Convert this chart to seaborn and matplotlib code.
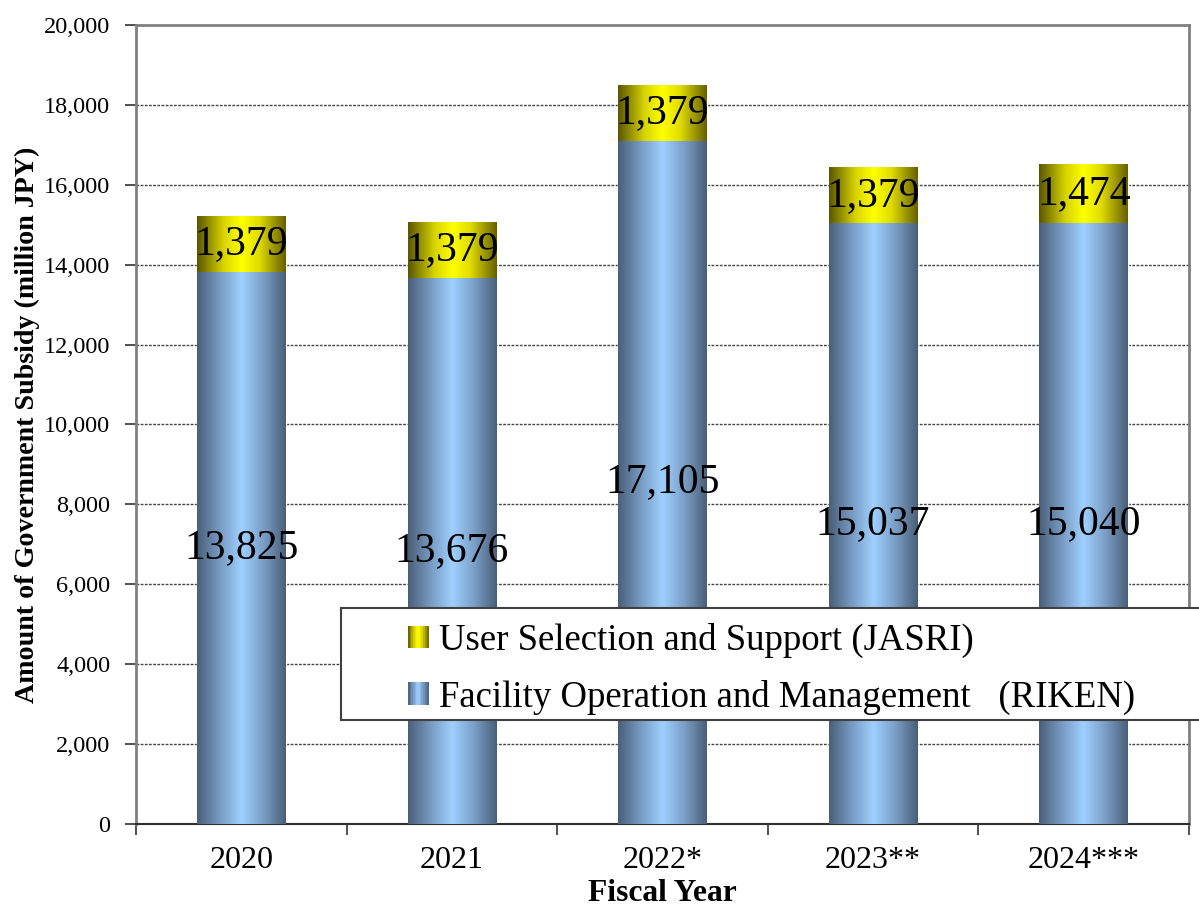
import numpy as np
import matplotlib
matplotlib.use("Agg")
import matplotlib.pyplot as plt
from matplotlib.colors import LinearSegmentedColormap
from matplotlib.patches import Rectangle
from matplotlib.legend_handler import HandlerBase
from matplotlib.ticker import StrMethodFormatter
import seaborn as sns

# =========================
# DATA
# =========================
years = ["2020", "2021", "2022*", "2023**", "2024***"]
riken = [13825, 13676, 17105, 15037, 15040]
jasri = [1379, 1379, 1379, 1379, 1474]
series_names = ["User Selection and Support (JASRI)",
                "Facility Operation and Management   (RIKEN)"]

# =========================
# STYLE
# =========================
sns.set_style("white")
plt.rcParams["font.family"] = ["Liberation Serif", "DejaVu Serif"]
plt.rcParams["text.color"] = "black"
plt.rcParams["axes.labelcolor"] = "black"
plt.rcParams["xtick.color"] = "black"
plt.rcParams["ytick.color"] = "black"

blue_cmap = LinearSegmentedColormap.from_list(
    "cyl_blue", [(0.0, "#4a5f78"), (0.25, "#7699c2"), (0.5, "#9fd0ff"),
                 (0.75, "#7a9ec6"), (1.0, "#4a5f78")])
yellow_cmap = LinearSegmentedColormap.from_list(
    "cyl_yellow", [(0.0, "#5a5600"), (0.3, "#d8d400"), (0.5, "#ffff00"),
                   (0.7, "#e0dc00"), (1.0, "#665f00")])
grad = np.linspace(0, 1, 256).reshape(1, -1)


class GradientHandler(HandlerBase):
    def __init__(self, cmap):
        super().__init__()
        self.cmap = cmap

    def create_artists(self, legend, orig_handle, xdescent, ydescent,
                       width, height, fontsize, trans):
        n = 12
        arts = []
        for i in range(n):
            r = Rectangle((-xdescent + width * i / n, -ydescent), width / n + 0.3,
                          height, facecolor=self.cmap((i + 0.5) / n),
                          edgecolor="none", transform=trans)
            arts.append(r)
        return arts


fig = plt.figure(figsize=(11.99, 9.08), dpi=100)
ax = fig.add_axes([136 / 1199, 84 / 908, 1053 / 1199, 799 / 908])

# =========================
# BARS
# =========================
sns.barplot(x=years, y=riken, color="#7fa8d8", width=0.42, ax=ax, zorder=2)
sns.barplot(x=years, y=jasri, bottom=riken, color="#e0e000", width=0.42, ax=ax, zorder=2)

for cont, cmap in zip(ax.containers, [blue_cmap, yellow_cmap]):
    for p in cont.patches:
        x0, y0 = p.get_x(), p.get_y()
        w, h = p.get_width(), p.get_height()
        ax.imshow(grad, cmap=cmap, aspect="auto", extent=[x0, x0 + w, y0, y0 + h],
                  interpolation="bilinear", zorder=3)

for cont, vals in zip(ax.containers, [riken, jasri]):
    txts = ax.bar_label(cont, labels=[f"{v:,}" for v in vals],
                        label_type="center", fontsize=30, color="black")
    for t in txts:
        t.set_zorder(6)

# =========================
# AXES
# =========================
ax.set_xlim(-0.5, len(years) - 0.5)
ax.set_ylim(0, 20000)
ax.set_yticks(np.arange(0, 20001, 2000))
ax.yaxis.set_major_formatter(StrMethodFormatter("{x:,.0f}"))
ax.set_xticks(np.arange(-0.5, len(years), 1.0), minor=True)
ax.tick_params(axis="x", which="major", length=0, pad=16, labelsize=23)
ax.tick_params(axis="x", which="minor", length=8, width=1.2, direction="out",
               color="#333333", bottom=True)
ax.tick_params(axis="y", length=8, width=1.2, direction="out", color="#333333",
               pad=10.5, labelsize=17.5, left=True)

for y in np.arange(2000, 20000, 2000):
    ax.axhline(y, color="#444444", linestyle=(0, (2, 1)), linewidth=1, zorder=1)

for side in ["left", "top", "right"]:
    ax.spines[side].set_color("#808080")
    ax.spines[side].set_linewidth(2)
ax.spines["bottom"].set_color("#303030")
ax.spines["bottom"].set_linewidth(1.5)

ax.set_xlabel("Fiscal Year", fontsize=22.7, fontweight="bold", labelpad=3)
ax.set_ylabel("Amount of Government Subsidy (million JPY)", fontsize=20.2,
              fontweight="bold", labelpad=3)

# =========================
# LEGEND
# =========================
box = Rectangle((341 / 1199, 188 / 908), 0.73, 112 / 908, transform=fig.transFigure,
                facecolor="white", edgecolor="#404040", linewidth=1.5, zorder=4)
fig.patches.append(box)

h_jasri = Rectangle((0, 0), 1, 1)
h_riken = Rectangle((0, 0), 1, 1)
leg = fig.legend([h_jasri, h_riken], series_names, loc="upper left",
                 bbox_to_anchor=(408 / 1199, 285 / 908), frameon=False,
                 fontsize=26.5, handlelength=0.55, handleheight=0.55,
                 handletextpad=0.3, labelspacing=0.58, borderpad=0,
                 borderaxespad=0,
                 handler_map={h_jasri: GradientHandler(yellow_cmap),
                              h_riken: GradientHandler(blue_cmap)})
leg.set_zorder(5)

fig.savefig("out.png", dpi=100)
plt.close(fig)
